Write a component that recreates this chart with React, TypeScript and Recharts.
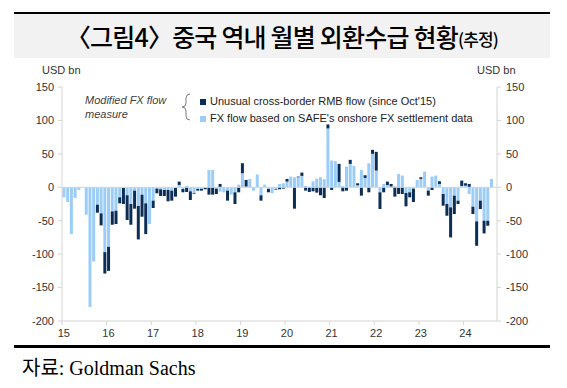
import { BarChart, Bar, XAxis, YAxis, ReferenceLine } from 'recharts'

// monthly categories, Jan '15 .. Sep '24
const YEARS = ['15', '16', '17', '18', '19', '20', '21', '22', '23', '24']
const MONTHS_IN_LAST_YEAR = 9

// FX flow based on SAFE's onshore FX settlement data (USD bn)
const SAFE_FLOW: (number | null)[] = [
  -15, -22, -70, -16, -4, 0, -41, -179, -111, -26, -39, -97, // 2015
  -89, -36, -35, -15, -1, -12, -25, -5, -28, -11, -24, -55, // 2016
  -20, -2, -3, -4, -4, -5, -1, 3.5, -2.5, 2, -6, -9, // 2017
  -2.5, -2.5, -1, 26, 26, -2, -6.5, -7.5, -5, -11, -7.5, 4, // 2018
  21, 1, 12.5, -5, 19, -12, 4, -2.5, -9, -2.5, 5, 6, // 2019
  8.5, 16, 15, 15, 17, 2, 1, 9, 13, 15, 12, 88, // 2020
  40, 39, 8, 2, 31, 35, 32, 3, 26, 14, 36, 50, // 2021
  25, -7.5, 5, 3.5, 1, 2, 20, 17.5, -8.5, -7.5, -2, 11, // 2022
  12.5, 23.5, -5, 16, 17.5, 5, -10, -25, -30, -12.5, -20, 2, // 2023
  2.5, -10, -29, -51, -20, -50, -50, 12.5, null, // 2024
]

// Unusual cross-border RMB flow, since Oct'15 (USD bn)
const UNUSUAL_FLOW: (number | null)[] = [
  null, null, null, null, null, null, null, null, null, -12, -18, -32, // 2015
  -36, -20, -20, -9, -24, -37, -31, -27, -50, -33, -46, 0, // 2016
  -11, -7, -10, -9, -17, -15, -13, 5, -5, -7, -13, -1, // 2017
  -2.5, -2.5, -2, -11, -11, -8, 5, 0, -15, 0, -17.5, -7.5, // 2018
  15, 10, 0, 0, 0, -8, 0, -5, 0, -1, -3, -2, // 2019
  4, 0, -32, 1, 5, -5, -7, -6, -8, -12, -16, 6, // 2020
  -4, 0, 27, -6, -5, 6, 0, 3, -12.5, 4, -7.5, 6, // 2021
  28, -25, -7.5, 5, 4, -14, -10, -10, -20, -7.5, -20, 0, // 2022
  2.5, 0, -7.5, -4, 0, 4, -17.5, -17.5, -45, -27.5, -5, 8, // 2023
  3.5, 5, -11, -36.5, -12.5, -19, -7.5, 0, null, // 2024
]

const Y_TICKS = [-200, -150, -100, -50, 0, 50, 100, 150]

const SAFE_COLOR = '#9ccdf8'
const UNUSUAL_COLOR = '#0c2d55'
const AXIS_COLOR = '#d4d4d4'
const TEXT_COLOR = '#333333'

const months = YEARS.flatMap((yy, yi) => {
  const count = yi === YEARS.length - 1 ? MONTHS_IN_LAST_YEAR : 12
  return Array.from({ length: count }, (_, i) => `${yy}-${String(i + 1).padStart(2, '0')}`)
})
const yearTicks = YEARS.map(yy => `${yy}-01`)

const data = months.map((month, i) => ({
  month,
  safe: SAFE_FLOW[i],
  unusual: UNUSUAL_FLOW[i],
}))

// tick mark sits on the year boundary, label sits on the January bar
function YearTick({ x, y, payload }: { x: number; y: number; payload: { value: string } }) {
  const half = 1.86
  return (
    <g>
      <line x1={x - half} x2={x - half} y1={y} y2={y + 4} stroke={AXIS_COLOR} />
      <text x={x} y={y + 12} dy="0.35em" textAnchor="middle" fontSize={11} fill={TEXT_COLOR}>
        {payload.value.slice(0, 2)}
      </text>
    </g>
  )
}

const font = '"Liberation Sans", Arial, sans-serif'

export default function App() {
  return (
    <div style={{ position: 'absolute', left: 0, top: 0, width: 567, height: 388, background: '#fff', fontFamily: font }}>
      {/* title band */}
      <div style={{ position: 'absolute', left: 14, top: 12, width: 536, height: 2, background: '#000' }} />
      <div
        style={{
          position: 'absolute', left: 14, top: 14, width: 536, height: 44, background: '#f2f2f2',
          display: 'flex', alignItems: 'center', justifyContent: 'center',
          fontFamily: '"Noto Sans CJK KR", sans-serif', fontSize: 25, fontWeight: 500, color: '#000',
          letterSpacing: -0.8, whiteSpace: 'pre',
        }}
      >
        〈그림4〉중국 역내 월별 외환수급 현황<span style={{ fontSize: 17, marginTop: 4 }}>(추정)</span>
      </div>

      <div style={{ position: 'absolute', left: 42, top: 64, fontSize: 11, color: TEXT_COLOR }}>USD bn</div>
      <div style={{ position: 'absolute', left: 477, top: 64, fontSize: 11, color: TEXT_COLOR }}>USD bn</div>

      <div style={{ position: 'absolute', left: 0, top: 60 }}>
        <BarChart
          width={567}
          height={285}
          data={data}
          stackOffset="sign"
          barCategoryGap="12%"
          margin={{ top: 27, right: 30, bottom: 4, left: 22 }}
        >
          <XAxis
            dataKey="month"
            ticks={yearTicks}
            interval={0}
            height={20}
            stroke={AXIS_COLOR}
            tickLine={false}
            tickSize={0}
            tickMargin={0}
            tick={YearTick}
          />
          <YAxis
            yAxisId="left"
            type="number"
            domain={[-200, 150]}
            ticks={Y_TICKS}
            allowDataOverflow
            width={40}
            stroke={AXIS_COLOR}
            tickSize={4}
            tickMargin={4}
            tick={{ fontSize: 11, fill: TEXT_COLOR }}
          />
          <YAxis
            yAxisId="right"
            orientation="right"
            type="number"
            domain={[-200, 150]}
            ticks={Y_TICKS}
            allowDataOverflow
            width={40}
            stroke={AXIS_COLOR}
            tickSize={4}
            tickMargin={5}
            tick={{ fontSize: 11, fill: TEXT_COLOR, textAnchor: 'start' }}
          />
          <ReferenceLine yAxisId="left" y={0} stroke={AXIS_COLOR} />
          <Bar yAxisId="left" dataKey="safe" stackId="fx" fill={SAFE_COLOR} isAnimationActive={false} />
          <Bar yAxisId="left" dataKey="unusual" stackId="fx" fill={UNUSUAL_COLOR} isAnimationActive={false} />
        </BarChart>
      </div>

      {/* legend */}
      <div style={{ position: 'absolute', left: 85, top: 93, fontSize: 11, fontStyle: 'italic', color: '#404040', lineHeight: '14px' }}>
        Modified FX flow<br />measure
      </div>
      <svg style={{ position: 'absolute', left: 178, top: 92 }} width={16} height={30}>
        <path d="M12 2 Q8 2 8 6 L8 11 Q8 15 4 15 Q8 15 8 19 L8 24 Q8 28 12 28" fill="none" stroke="#7f7f7f" strokeWidth={1} />
      </svg>
      <div style={{ position: 'absolute', left: 200, top: 93, fontSize: 11, color: '#222', lineHeight: '17px' }}>
        <div style={{ display: 'flex', alignItems: 'center' }}>
          <span style={{ width: 6, height: 6, background: UNUSUAL_COLOR, marginRight: 4 }} />
          Unusual cross-border RMB flow (since Oct'15)
        </div>
        <div style={{ display: 'flex', alignItems: 'center' }}>
          <span style={{ width: 6, height: 6, background: SAFE_COLOR, marginRight: 4 }} />
          FX flow based on SAFE's onshore FX settlement data
        </div>
      </div>

      {/* source */}
      <div style={{ position: 'absolute', left: 14, top: 345, width: 536, height: 2.5, background: '#000' }} />
      <div style={{ position: 'absolute', left: 22, top: 352, fontSize: 20, fontFamily: '"Liberation Serif", "Noto Sans CJK KR", serif', color: '#000' }}>
        자료: Goldman Sachs
      </div>
    </div>
  )
}
